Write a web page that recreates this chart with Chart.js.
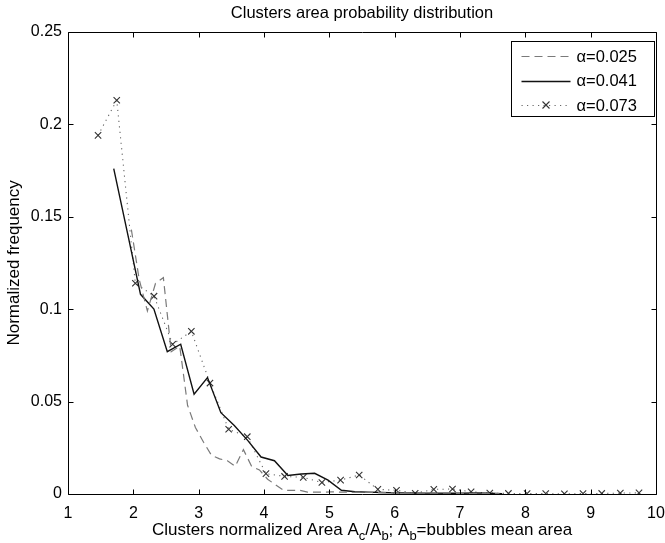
<!DOCTYPE html>
<html>
<head>
<meta charset="utf-8">
<title>Clusters area probability distribution</title>
<script src="https://cdn.jsdelivr.net/npm/chart.js@4.4.0/dist/chart.umd.min.js"></script>
<style>
  html, body { margin: 0; padding: 0; background: #fff; }
</style>
</head>
<body>
<canvas id="myChart" width="665" height="543"></canvas>
<script>
'use strict';
// alpha = 0.025 (dashed)
const areaA = [1.97, 2.09, 2.215, 2.34, 2.46, 2.58, 2.71, 2.83, 2.95, 3.075, 3.195, 3.32, 3.44, 3.56, 3.685, 3.81,
  3.93, 4.055, 4.175, 4.30, 4.42, 4.545, 4.665, 4.79, 4.91, 5.03, 5.155, 5.28, 5.40, 5.52, 5.645, 5.77, 5.89,
  6.01, 6.135, 6.26, 6.38, 6.50, 6.625, 6.75, 6.87, 6.99, 7.115, 7.24, 7.36, 7.48, 7.605];
const freqA = [0.143, 0.116, 0.099, 0.114, 0.117, 0.077, 0.080, 0.048, 0.036, 0.028, 0.021, 0.019, 0.018, 0.015, 0.024, 0.015,
  0.013, 0.008, 0.005, 0.002, 0.002, 0.002, 0.001, 0.001, 0.001, 0.0012, 0.001, 0.001, 0.0009, 0.0008, 0.0008, 0.0007, 0.0007,
  0.0006, 0.0006, 0.0005, 0.0005, 0.0005, 0.0004, 0.0004, 0.0004, 0.0003, 0.0003, 0.0003, 0.0003, 0.0002, 0.0002];

// alpha = 0.041 (solid)
const areaB = [1.70, 1.905, 2.11, 2.315, 2.52, 2.725, 2.93, 3.135, 3.34, 3.545, 3.75, 3.955, 4.16, 4.365, 4.57, 4.775,
  4.98, 5.185, 5.39, 5.595, 5.80, 6.005, 6.21, 6.415, 6.62, 6.825, 7.03, 7.235, 7.44, 7.645];
const freqB = [0.176, 0.142, 0.108, 0.100, 0.077, 0.081, 0.054, 0.063, 0.044, 0.037, 0.029, 0.020, 0.018, 0.0100, 0.0108, 0.0112,
  0.0075, 0.002, 0.0012, 0.001, 0.0008, 0.0006, 0.0006, 0.0005, 0.0005, 0.0004, 0.0004, 0.0006, 0.0004, 0.0002];

// alpha = 0.073 (dotted, x markers)
const areaC = [1.46, 1.746, 2.031, 2.317, 2.602, 2.888, 3.173, 3.459, 3.744, 4.03, 4.315, 4.601, 4.886, 5.172, 5.457,
  5.743, 6.028, 6.314, 6.599, 6.885, 7.17, 7.456, 7.741, 8.027, 8.312, 8.598, 8.883, 9.169, 9.454, 9.74];
const freqC = [0.194, 0.213, 0.114, 0.107, 0.081, 0.088, 0.060, 0.035, 0.031, 0.011, 0.0095, 0.009, 0.0062, 0.0075, 0.0103,
  0.0025, 0.002, 0.0004, 0.0025, 0.0027, 0.0012, 0.0005, 0.0003, 0.0002, 0.0002, 0.0001, 0.0002, 0.0003, 0.0005, 0.0006];

const labels = ['\u03b1=0.025', '\u03b1=0.041', '\u03b1=0.073'];
const xTicks = [1, 2, 3, 4, 5, 6, 7, 8, 9, 10];
const yTicks = [0, 0.05, 0.1, 0.15, 0.2, 0.25];

const FONT = "'Liberation Sans', Arial, Helvetica, sans-serif";

const toPoints = (xs, ys) => xs.map((x, i) => ({ x: x, y: ys[i] }));

const data = {
  datasets: [
    {
      label: labels[0],
      data: toPoints(areaA, freqA),
      borderColor: '#7a7a7a',
      borderWidth: 1.2,
      borderDash: [8, 5],
      pointRadius: 0,
    },
    {
      label: labels[1],
      data: toPoints(areaB, freqB),
      borderColor: '#111',
      borderWidth: 1.4,
      pointRadius: 0,
    },
    {
      label: labels[2],
      data: toPoints(areaC, freqC),
      borderColor: '#666',
      borderWidth: 1.1,
      borderDash: [1.2, 4.3],
      pointStyle: 'crossRot',
      pointRadius: 4.5,
      pointBorderColor: '#333',
      pointBorderWidth: 1.1,
    },
  ],
};

// box round the plot with inward ticks on all four sides
const frame = {
  id: 'frame',
  afterDatasetsDraw(chart) {
    const { ctx, chartArea: a, scales } = chart;
    const L = Math.round(a.left) + 0.5, R = Math.round(a.right) + 0.5;
    const T = Math.round(a.top) + 0.5, B = Math.round(a.bottom) + 0.5;
    const len = 5;
    ctx.save();
    ctx.strokeStyle = '#000';
    ctx.lineWidth = 1;
    ctx.beginPath();
    ctx.rect(L, T, R - L, B - T);
    xTicks.forEach(v => {
      const px = Math.round(scales.x.getPixelForValue(v)) + 0.5;
      ctx.moveTo(px, B); ctx.lineTo(px, B - len);
      ctx.moveTo(px, T); ctx.lineTo(px, T + len);
    });
    yTicks.forEach(v => {
      const py = Math.round(scales.y.getPixelForValue(v)) + 0.5;
      ctx.moveTo(L, py); ctx.lineTo(L + len, py);
      ctx.moveTo(R, py); ctx.lineTo(R - len, py);
    });
    ctx.stroke();
    ctx.restore();
  },
};

// legend box in the upper right corner
const boxLegend = {
  id: 'boxLegend',
  afterDraw(chart) {
    const { ctx, chartArea: a } = chart;
    const w = 143, h = 75;
    const x0 = Math.round(a.right) - 2 - w + 0.5, y0 = Math.round(a.top) + 9 + 0.5;
    ctx.save();
    ctx.fillStyle = '#fff';
    ctx.fillRect(x0, y0, w, h);
    ctx.strokeStyle = '#000';
    ctx.lineWidth = 1;
    ctx.strokeRect(x0, y0, w, h);
    ctx.font = '16.5px ' + FONT;
    ctx.textBaseline = 'middle';
    ctx.textAlign = 'left';
    chart.data.datasets.forEach((ds, i) => {
      const y = y0 + 14.5 + i * 24.5;
      const sx = x0 + 10, ex = x0 + 59;
      ctx.save();
      ctx.strokeStyle = ds.borderColor;
      ctx.lineWidth = ds.borderWidth;
      ctx.setLineDash(ds.borderDash || []);
      ctx.beginPath();
      ctx.moveTo(sx, Math.round(y) + 0.5);
      ctx.lineTo(ex, Math.round(y) + 0.5);
      ctx.stroke();
      if (ds.pointStyle === 'crossRot') {
        const cx = (sx + ex) / 2, r = 3.5;
        ctx.setLineDash([]);
        ctx.strokeStyle = ds.pointBorderColor;
        ctx.lineWidth = ds.pointBorderWidth;
        ctx.beginPath();
        ctx.moveTo(cx - r, y - r); ctx.lineTo(cx + r, y + r);
        ctx.moveTo(cx - r, y + r); ctx.lineTo(cx + r, y - r);
        ctx.stroke();
      }
      ctx.restore();
      ctx.fillStyle = '#000';
      ctx.fillText(ds.label, x0 + 65, y + 1);
    });
    ctx.restore();
  },
};

// x axis caption with subscripts
const xCaption = {
  id: 'xCaption',
  afterDraw(chart) {
    const { ctx, chartArea: a } = chart;
    const parts = [
      ['Clusters normalized Area A', false], ['c', true], ['/A', false], ['b', true],
      ['; A', false], ['b', true], ['=bubbles mean area', false],
    ];
    const big = '17px ' + FONT, small = '13px ' + FONT;
    ctx.save();
    let total = 0;
    parts.forEach(([t, sub]) => { ctx.font = sub ? small : big; total += ctx.measureText(t).width; });
    let x = (a.left + a.right) / 2 - total / 2;
    const base = 535;
    ctx.fillStyle = '#000';
    ctx.textBaseline = 'alphabetic';
    ctx.textAlign = 'left';
    parts.forEach(([t, sub]) => {
      ctx.font = sub ? small : big;
      ctx.fillText(t, x, sub ? base + 5 : base);
      x += ctx.measureText(t).width;
    });
    ctx.restore();
  },
};

const config = {
  type: 'line',
  data: data,
  options: {
    responsive: false,
    animation: false,
    layout: { padding: { top: 0, right: 9, left: 0, bottom: 0 } },
    plugins: {
      legend: { display: false },
      tooltip: { enabled: false },
      title: {
        display: true,
        text: 'Clusters area probability distribution',
        fullSize: false,
        color: '#000',
        font: { family: FONT, size: 16.5, weight: 'normal' },
        padding: { top: 4, bottom: 8 },
      },
    },
    scales: {
      x: {
        type: 'linear',
        min: 1,
        max: 10,
        afterBuildTicks: s => { s.ticks = xTicks.map(v => ({ value: v })); },
        ticks: { color: '#000', font: { family: FONT, size: 16 }, padding: 10, maxRotation: 0, autoSkip: false },
        grid: { display: false, drawTicks: false },
        border: { display: false },
        afterFit: s => { s.height = 49; s.paddingLeft = 0; s.paddingRight = 0; },
      },
      y: {
        type: 'linear',
        min: 0,
        max: 0.25,
        afterBuildTicks: s => { s.ticks = yTicks.map(v => ({ value: v })); },
        ticks: { color: '#000', font: { family: FONT, size: 16 }, padding: 6, callback: v => String(+v.toFixed(2)) },
        grid: { display: false, drawTicks: false },
        border: { display: false },
        title: {
          display: true,
          text: 'Normalized frequency',
          color: '#000',
          font: { family: FONT, size: 17 },
          padding: { top: 4, bottom: 0 },
        },
        afterFit: s => { s.width = 68; s.paddingTop = 0; s.paddingBottom = 0; },
      },
    },
  },
  plugins: [frame, boxLegend, xCaption],
};

const myChart = new Chart(document.getElementById('myChart'), config);
</script>
</body>
</html>
